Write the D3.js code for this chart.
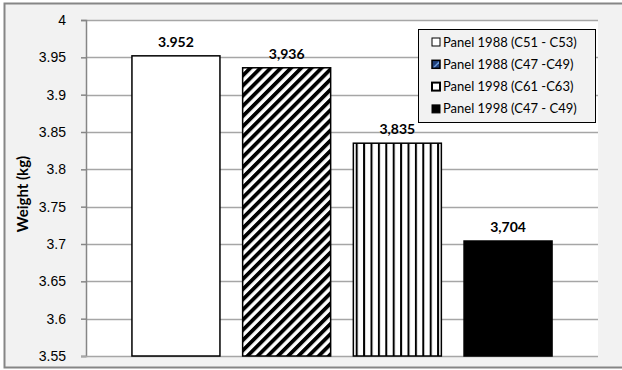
<!DOCTYPE html>
<html>
<head>
<meta charset="utf-8">
<script src="https://cdn.jsdelivr.net/npm/d3@7"></script>
<style>
  body { margin: 0; background: #fff; }
  svg { display: block; font-family: Lato, "Liberation Sans", sans-serif; }
</style>
</head>
<body>
<div id="chart"></div>
<script>
// data
const seriesNames = ["Panel 1988 (C51 - C53)", "Panel 1988 (C47 -C49)", "Panel 1998 (C61 -C63)", "Panel 1998 (C47 - C49)"];
const weights = [3.952, 3.936, 3.835, 3.704];
const valueLabels = ["3.952", "3,936", "3,835", "3,704"];
const yTicks = [3.55, 3.6, 3.65, 3.7, 3.75, 3.8, 3.85, 3.9, 3.95, 4];
const fills = ["#fff", "url(#diag)", "url(#vert)", "#000"];

const W = 622, H = 370;
const plot = { left: 86, right: 598, top: 20, bottom: 356 };

const svg = d3.select("#chart").append("svg")
    .attr("width", W)
    .attr("height", H);

// patterns for the hatched bars
const defs = svg.append("defs");
const diag = defs.append("pattern")
    .attr("id", "diag")
    .attr("patternUnits", "userSpaceOnUse")
    .attr("width", 7.2).attr("height", 7.2)
    .attr("patternTransform", "rotate(45)");
diag.append("rect").attr("width", 7.2).attr("height", 7.2).attr("fill", "#fff");
diag.append("rect").attr("width", 3.8).attr("height", 7.2).attr("fill", "#000");

const vert = defs.append("pattern")
    .attr("id", "vert")
    .attr("patternUnits", "userSpaceOnUse")
    .attr("x", 0.5)
    .attr("width", 7.4).attr("height", 10);
vert.append("rect").attr("width", 7.4).attr("height", 10).attr("fill", "#fff");
vert.append("rect").attr("width", 2).attr("height", 10).attr("fill", "#000");

// chart background + border
svg.append("rect")
    .attr("x", 4.5).attr("y", 3.5)
    .attr("width", 630).attr("height", 364)
    .attr("fill", "#f2f2f2")
    .attr("stroke", "#868686")
    .attr("stroke-width", 2);

// plot area
svg.append("rect")
    .attr("x", plot.left).attr("y", plot.top)
    .attr("width", plot.right - plot.left)
    .attr("height", plot.bottom - plot.top)
    .attr("fill", "#fff");

const x = d3.scaleBand()
    .domain(seriesNames)
    .range([plot.left, plot.right])
    .paddingInner(0.205)
    .paddingOuter(0.415);

const y = d3.scaleLinear()
    .domain([3.55, 4])
    .range([plot.bottom, plot.top]);

// gridlines
svg.append("g")
    .selectAll("line")
    .data(yTicks.slice(1))
    .join("line")
    .attr("x1", plot.left).attr("x2", plot.right)
    .attr("y1", d => Math.round(y(d)) + 0.5)
    .attr("y2", d => Math.round(y(d)) + 0.5)
    .attr("stroke", "#a6a6a6")
    .attr("stroke-width", 1.5);

// y axis
const yAxis = svg.append("g")
    .attr("transform", `translate(${plot.left},0)`)
    .call(d3.axisLeft(y).tickValues(yTicks).tickSize(5).tickPadding(15)
        .tickFormat(d => d3.format("")(+d.toFixed(2))));
yAxis.select(".domain").attr("stroke", "#868686").attr("stroke-width", 1.5);
yAxis.selectAll(".tick line").attr("stroke", "#868686").attr("stroke-width", 1.5);
yAxis.selectAll(".tick text")
    .attr("fill", "#000")
    .style("font-size", "14px");

// bottom axis line
svg.append("line")
    .attr("x1", plot.left - 5).attr("x2", plot.right)
    .attr("y1", plot.bottom + 0.5).attr("y2", plot.bottom + 0.5)
    .attr("stroke", "#a6a6a6")
    .attr("stroke-width", 1.5);

// bars
svg.append("g")
    .selectAll("rect")
    .data(seriesNames)
    .join("rect")
    .attr("x", d => x(d))
    .attr("y", (d, i) => y(weights[i]))
    .attr("width", x.bandwidth())
    .attr("height", (d, i) => y(3.55) - y(weights[i]))
    .attr("fill", (d, i) => fills[i])
    .attr("stroke", "#000")
    .attr("stroke-width", 1.5);

// value labels
svg.append("g")
    .selectAll("text")
    .data(seriesNames)
    .join("text")
    .attr("x", d => x(d) + x.bandwidth() / 2)
    .attr("y", (d, i) => y(weights[i]) - 9)
    .attr("text-anchor", "middle")
    .style("font-size", "14px")
    .style("font-weight", "bold")
    .text((d, i) => valueLabels[i]);

// y title
svg.append("text")
    .attr("transform", "translate(28,194) rotate(-90)")
    .attr("text-anchor", "middle")
    .style("font-size", "15px")
    .style("font-weight", "bold")
    .text("Weight (kg)");

// legend
const legend = svg.append("g");
legend.append("rect")
    .attr("x", 418.5).attr("y", 29.5)
    .attr("width", 177).attr("height", 93)
    .attr("fill", "#f2f2f2")
    .attr("stroke", "#000")
    .attr("stroke-width", 1);

const legendFills = ["#fff", "#1f3f7a", "#fff", "#000"];
const legendStroke = [1, 1.5, 2, 1];
const item = legend.selectAll("g.item")
    .data(seriesNames)
    .join("g")
    .attr("class", "item")
    .attr("transform", (d, i) => `translate(432,${42 + i * 22.3})`);
item.append("rect")
    .attr("x", 0).attr("y", -4)
    .attr("width", 8).attr("height", 8)
    .attr("fill", (d, i) => legendFills[i])
    .attr("stroke", "#000")
    .attr("stroke-width", (d, i) => legendStroke[i]);
item.filter((d, i) => i === 1).append("path")
    .attr("d", "M1,3 L3,3 L7,-1 L7,-3 Z")
    .attr("fill", "#6a9ad8");
item.append("text")
    .attr("x", 11).attr("y", 4.5)
    .style("font-size", "13px")
    .text(d => d);
</script>
</body>
</html>
